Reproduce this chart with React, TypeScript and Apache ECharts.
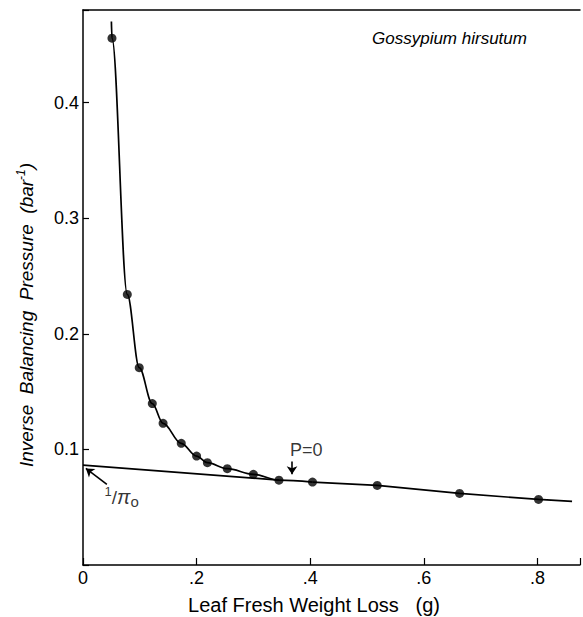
import React, { useEffect, useRef } from "react";
import * as echarts from "echarts";

// Measured points: leaf fresh weight loss (g) vs inverse balancing pressure (bar^-1)
const lossG = [0.051, 0.078, 0.099, 0.122, 0.141, 0.173, 0.2, 0.219, 0.254, 0.3, 0.345, 0.404, 0.518, 0.663, 0.802];
const invPressure = [0.4556, 0.234, 0.1707, 0.1396, 0.1225, 0.1052, 0.0942, 0.0885, 0.0833, 0.0784, 0.0734, 0.0717, 0.0688, 0.0619, 0.0567];

// Fitted curve as drawn: curved part (extends above first point)
const curveX = [0.05, 0.051, 0.078, 0.099, 0.122, 0.141, 0.173, 0.2, 0.219, 0.254, 0.3, 0.345, 0.404];
const curveY = [0.47, 0.4556, 0.234, 0.1707, 0.1396, 0.1225, 0.1052, 0.0942, 0.0885, 0.0833, 0.0784, 0.0734, 0.0717];
// Near-linear tail of the curve (extends beyond last point)
const tailX = [0.404, 0.518, 0.663, 0.802, 0.861];
const tailY = [0.0717, 0.0688, 0.0619, 0.0567, 0.055];

// Linear extrapolation to 1/π0
const lineX = [0, 0.345];
const lineY = [0.0864, 0.0734];

const xTickValues = [0, 0.2, 0.4, 0.6, 0.8];
const xTickLabels = ["0", ".2", ".4", ".6", ".8"];
const yTickValues = [0.1, 0.2, 0.3, 0.4];
const yTickLabels = ["0.1", "0.2", "0.3", "0.4"];

const FONT = "Liberation Sans, Arial, sans-serif";

export default function App() {
  const ref = useRef<HTMLDivElement>(null);
  useEffect(() => {
    if (!ref.current) return;
    const chart = echarts.init(ref.current, null, { renderer: "svg" });
    const near = (a: number, b: number) => Math.abs(a - b) < 1e-6;
    chart.setOption({
      animation: false,
      backgroundColor: "#fff",
      textStyle: { fontFamily: FONT, color: "#000" },
      title: {
        text: "Gossypium hirsutum",
        left: 367,
        top: 25,
        textStyle: { fontFamily: FONT, fontStyle: "italic", fontWeight: "normal", fontSize: 17, color: "#000" },
      },
      grid: { left: 83, right: 1, top: 10, bottom: 52 },
      xAxis: [
        {
          type: "value",
          min: 0,
          max: 0.875,
          interval: 0.2,
          axisLine: { show: true, onZero: false, lineStyle: { color: "#000", width: 1.5 } },
          axisTick: { show: true, inside: true, length: 7, lineStyle: { color: "#000", width: 1.2 } },
          splitLine: { show: false },
          axisLabel: {
            margin: 4,
            fontSize: 18,
            color: "#000",
            fontFamily: FONT,
            formatter: (v: number) => {
              const i = xTickValues.findIndex((t) => near(t, v));
              return i >= 0 ? xTickLabels[i] : "";
            },
          },
        },
        {
          type: "value",
          position: "top",
          min: 0,
          max: 0.875,
          axisLine: { show: true, onZero: false, lineStyle: { color: "#000", width: 1.5 } },
          axisTick: { show: false },
          axisLabel: { show: false },
          splitLine: { show: false },
        },
      ],
      yAxis: {
        type: "value",
        min: 0,
        max: 0.48,
        interval: 0.1,
        axisLine: { show: true, onZero: false, lineStyle: { color: "#000", width: 1.5 } },
        axisTick: { show: true, inside: true, length: 6, lineStyle: { color: "#000", width: 1.2 } },
        splitLine: { show: false },
        axisLabel: {
          margin: 4,
          fontSize: 18,
          color: "#000",
          fontFamily: FONT,
          formatter: (v: number) => {
            const i = yTickValues.findIndex((t) => near(t, v));
            return i >= 0 ? yTickLabels[i] : "";
          },
        },
      },
      graphic: [
        {
          type: "text",
          x: 26,
          y: 315,
          rotation: Math.PI / 2,
          style: {
            text: "Inverse  Balancing  Pressure  (bar{sup|-1})",
            font: `italic 19px ${FONT}`,
            fill: "#000",
            align: "center",
            verticalAlign: "middle",
            rich: {
              sup: { fontSize: 12, fontStyle: "italic", verticalAlign: "top", lineHeight: 23, fill: "#000" },
            },
          },
        },
        {
          type: "text",
          x: 314,
          y: 605,
          style: {
            text: "Leaf Fresh Weight Loss   (g)",
            font: `20px ${FONT}`,
            fill: "#000",
            align: "center",
            verticalAlign: "middle",
          },
        },
      ],
      series: [
        {
          type: "line",
          data: curveX.map((x, i) => [x, curveY[i]]),
          smooth: 0.35,
          smoothMonotone: "x",
          showSymbol: false,
          symbol: "none",
          lineStyle: { color: "#000", width: 1.7 },
          z: 2,
        },
        {
          type: "line",
          data: tailX.map((x, i) => [x, tailY[i]]),
          showSymbol: false,
          symbol: "none",
          lineStyle: { color: "#000", width: 1.7 },
          z: 2,
        },
        {
          type: "line",
          data: lineX.map((x, i) => [x, lineY[i]]),
          showSymbol: false,
          symbol: "none",
          lineStyle: { color: "#000", width: 1.7 },
          z: 2,
        },
        {
          type: "scatter",
          data: lossG.map((x, i) => [x, invPressure[i]]),
          symbol: "circle",
          symbolSize: 9,
          itemStyle: { color: "#000" },
          z: 3,
        },
        {
          type: "scatter",
          symbolSize: 1,
          itemStyle: { color: "rgba(0,0,0,0)" },
          label: {
            show: true,
            position: "inside",
            color: "#000",
            fontFamily: FONT,
            fontSize: 18,
            formatter: (p: any) => p.name,
            rich: {
              one: { fontSize: 13, verticalAlign: "top", lineHeight: 24, color: "#000" },
              sl: { fontSize: 19, lineHeight: 24, color: "#000" },
              pi: { fontSize: 20, fontStyle: "italic", lineHeight: 24, color: "#000" },
              sub: { fontSize: 15, verticalAlign: "bottom", lineHeight: 24, color: "#000" },
            },
          },
          data: [
            { name: "P=0", value: [0.393, 0.0991] },
            { name: "{one|1}{sl|/}{pi|π}{sub|o}", value: [0.068, 0.0584] },
          ],
          markLine: {
            silent: true,
            symbol: ["none", "arrow"],
            symbolSize: 8,
            label: { show: false },
            lineStyle: { color: "#000", type: "solid", width: 1.6 },
            data: [
              [{ coord: [0.368, 0.0896] }, { coord: [0.368, 0.0784] }],
              [{ coord: [0.042, 0.0697] }, { coord: [0.005, 0.0835] }],
            ],
          },
          z: 4,
        },
      ],
    });
    return () => chart.dispose();
  }, []);
  return <div ref={ref} style={{ position: "absolute", left: 0, top: 0, width: 583, height: 617 }} />;
}
